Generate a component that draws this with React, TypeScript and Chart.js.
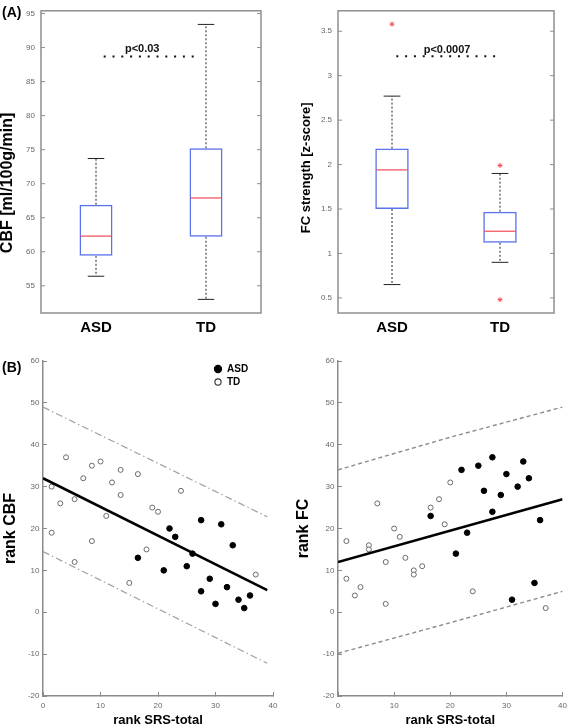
import React, { useEffect, useRef } from 'react';
import { Chart, registerables } from 'chart.js';

Chart.register(...registerables);

const FONT = "'Liberation Sans', Arial, sans-serif";

// ---------- Panel A: box plots ----------
const groups = ['ASD', 'TD'];

const cbfLow = [56.4, 53.0];
const cbfQ1 = [59.4, 62.2];
const cbfMedian = [62.3, 67.9];
const cbfQ3 = [66.9, 75.2];
const cbfHigh = [73.7, 93.4];
const cbfOutlierGroup: string[] = [];
const cbfOutlierValue: number[] = [];
const cbfTicks = [55, 60, 65, 70, 75, 80, 85, 90, 95];
const cbfSigLabel = 'p<0.03';
const cbfSigFrom = 0.07;
const cbfSigTo = 0.92;
const cbfSigY = 88.7;
const cbfSigLabelX = 0.42;
const cbfSigLabelY = 89.4;

const fcLow = [0.65, 0.9];
const fcQ1 = [1.5, 1.12];
const fcMedian = [1.94, 1.25];
const fcQ3 = [2.18, 1.47];
const fcHigh = [2.77, 1.9];
const fcOutlierGroup = ['ASD', 'TD', 'TD'];
const fcOutlierValue = [3.58, 1.99, 0.48];
const fcTicks = [0.5, 1, 1.5, 2, 2.5, 3, 3.5];
const fcSigLabel = 'p<0.0007';
const fcSigFrom = 0.04;
const fcSigTo = 0.96;
const fcSigY = 3.22;
const fcSigLabelX = 0.51;
const fcSigLabelY = 3.26;

// ---------- Panel B: rank scatter plots ----------
const asdSrsRank = [16.5, 21, 22, 23, 25, 26, 27.5, 27.5, 29, 30, 31, 32, 33, 34, 35, 36];
const tdSrsRank = [1.5, 1.5, 3, 4, 5.5, 5.5, 7, 8.5, 8.5, 10, 11, 12, 13.5, 13.5, 15, 16.5, 18, 19, 20, 24, 37];

const asdCbfRank = [13, 10, 20, 18, 11, 14, 22, 5, 8, 2, 21, 6, 16, 3, 1, 4];
const tdCbfRank = [30, 19, 26, 37, 27, 12, 32, 35, 17, 36, 23, 31, 34, 28, 7, 33, 15, 25, 24, 29, 9];

const asdFcRank = [23, 14, 34, 19, 35, 29, 37, 24, 28, 33, 3, 30, 36, 32, 7, 22];
const tdFcRank = [17, 8, 4, 6, 16, 15, 26, 12, 2, 20, 18, 13, 10, 9, 11, 25, 27, 21, 31, 5, 1];

const cbfFitX = [0, 39];
const cbfFitY = [32, 5.3];
const cbfUpperY = [49, 22.8];
const cbfLowerY = [14.5, -12.2];

const fcFitX = [0, 40];
const fcFitY = [12, 27];
const fcBandX = [0, 20, 40];
const fcUpperY = [34, 41.8, 49];
const fcLowerY = [-9.8, -2.5, 5];

const rankXTicks = [0, 10, 20, 30, 40];
const rankYTicks = [-20, -10, 0, 10, 20, 30, 40, 50, 60];

type BoxSpec = {
  low: number[]; q1: number[]; med: number[]; q3: number[]; high: number[];
  outGroup: string[]; outVal: number[]; ticks: number[];
  min: number; max: number; title: string; titleSize: number; titleGap: number; titleShift: number;
  sigLabel: string; sigFrom: number; sigTo: number; sigY: number; sigLX: number; sigLY: number;
  padLeft: number; yWidth: number; padRight: number; barPct: number;
};

function makeBoxPlugin(s: BoxSpec) {
  return {
    id: 'boxExtras',
    afterDatasetsDraw(chart: any) {
      const { ctx, chartArea: a } = chart;
      const x = chart.scales.x;
      const y = chart.scales.y;
      const meta = chart.getDatasetMeta(0);
      ctx.save();
      meta.data.forEach((el: any, i: number) => {
        const cx = el.x;
        const w = el.width;
        // whiskers
        ctx.strokeStyle = '#222';
        ctx.lineWidth = 1;
        ctx.setLineDash([2, 2]);
        ctx.beginPath();
        ctx.moveTo(cx, y.getPixelForValue(s.q3[i]));
        ctx.lineTo(cx, y.getPixelForValue(s.high[i]));
        ctx.moveTo(cx, y.getPixelForValue(s.q1[i]));
        ctx.lineTo(cx, y.getPixelForValue(s.low[i]));
        ctx.stroke();
        ctx.setLineDash([]);
        ctx.beginPath();
        [s.high[i], s.low[i]].forEach((v) => {
          const py = y.getPixelForValue(v);
          ctx.moveTo(cx - w / 4, py);
          ctx.lineTo(cx + w / 4, py);
        });
        ctx.stroke();
        // median
        ctx.strokeStyle = '#ef4b57';
        ctx.lineWidth = 1.2;
        ctx.beginPath();
        const pm = y.getPixelForValue(s.med[i]);
        ctx.moveTo(cx - w / 2 + 1, pm);
        ctx.lineTo(cx + w / 2 - 1, pm);
        ctx.stroke();
      });
      // frame + inward ticks
      ctx.strokeStyle = '#8f8f8f';
      ctx.lineWidth = 1.5;
      ctx.strokeRect(a.left, a.top, a.right - a.left, a.bottom - a.top);
      ctx.lineWidth = 1;
      ctx.beginPath();
      y.ticks.forEach((t: any) => {
        const py = y.getPixelForValue(t.value);
        ctx.moveTo(a.left, py);
        ctx.lineTo(a.left + 4, py);
        ctx.moveTo(a.right - 4, py);
        ctx.lineTo(a.right, py);
      });
      ctx.stroke();
      // significance marker
      const sy = y.getPixelForValue(s.sigY);
      ctx.strokeStyle = '#111';
      ctx.lineWidth = 2;
      ctx.setLineDash([2, 6.8]);
      ctx.beginPath();
      ctx.moveTo(x.getPixelForValue(s.sigFrom), sy);
      ctx.lineTo(x.getPixelForValue(s.sigTo), sy);
      ctx.stroke();
      ctx.setLineDash([]);
      ctx.fillStyle = '#111';
      ctx.font = `bold 11px ${FONT}`;
      ctx.textAlign = 'center';
      ctx.textBaseline = 'alphabetic';
      ctx.fillText(s.sigLabel, x.getPixelForValue(s.sigLX), y.getPixelForValue(s.sigLY));
      // y-axis title
      ctx.save();
      ctx.translate(a.left - s.titleGap, (a.top + a.bottom) / 2 + s.titleShift);
      ctx.rotate(-Math.PI / 2);
      ctx.fillStyle = '#000';
      ctx.font = `bold ${s.titleSize}px ${FONT}`;
      ctx.textAlign = 'center';
      ctx.textBaseline = 'middle';
      ctx.fillText(s.title, 0, 0);
      ctx.restore();
      ctx.restore();
    },
  };
}

function BoxPanel({ spec, left }: { spec: BoxSpec; left: number }) {
  const ref = useRef<HTMLCanvasElement>(null);
  useEffect(() => {
    const s = spec;
    const chart = new Chart(ref.current as HTMLCanvasElement, {
      type: 'bar',
      data: {
        labels: groups,
        datasets: [
          {
            type: 'bar',
            data: groups.map((_, i) => [s.q1[i], s.q3[i]]) as any,
            backgroundColor: 'rgba(0,0,0,0)',
            borderColor: '#5b73ea',
            borderWidth: 1.5,
            borderSkipped: false,
            barPercentage: s.barPct,
            categoryPercentage: 1,
          } as any,
          {
            type: 'line',
            data: s.outGroup.map((g, i) => ({ x: g, y: s.outVal[i] })) as any,
            showLine: false,
            pointStyle: 'star',
            pointRadius: 2.4,
            pointBorderColor: '#f0505a',
            borderColor: '#f0505a',
            pointBorderWidth: 1,
          } as any,
        ],
      },
      options: {
        responsive: false,
        animation: false,
        events: [],
        layout: { padding: { left: s.padLeft, right: s.padRight, top: 2, bottom: 0 } },
        plugins: { legend: { display: false }, tooltip: { enabled: false } },
        scales: {
          x: {
            grid: { display: false, drawTicks: false },
            border: { display: false },
            ticks: { font: { family: FONT, size: 15, weight: 'bold' }, color: '#000', padding: 6, maxRotation: 0 },
            afterFit: (sc: any) => { sc.height = 27; },
          },
          y: {
            type: 'linear',
            min: s.min,
            max: s.max,
            grid: { display: false, drawTicks: false },
            border: { display: false },
            afterBuildTicks: (sc: any) => { sc.ticks = s.ticks.map((v) => ({ value: v })); },
            ticks: { font: { family: FONT, size: 8 }, color: '#686868', padding: 6, callback: (v: any) => String(v) },
            title: { display: false },
            afterFit: (sc: any) => { sc.width = s.yWidth; },
          },
        },
      } as any,
      plugins: [makeBoxPlugin(s)],
    });
    return () => chart.destroy();
  }, [spec]);
  return (
    <canvas ref={ref} width={288} height={340} style={{ position: 'absolute', left, top: 0, width: 288, height: 340 }} />
  );
}

type ScatterSpec = {
  asdY: number[]; tdY: number[];
  fitX: number[]; fitY: number[];
  bandX: number[]; upperY: number[]; lowerY: number[];
  bandDash: number[]; bandColor: string; bandWidth: number;
  title: string; padLeft: number; yWidth: number; padRight: number; legend: boolean;
};

const legendPlugin = {
  id: 'cornerLegend',
  afterDraw(chart: any) {
    const { ctx, chartArea: a } = chart;
    const items = chart.data.datasets.filter((d: any) => d.label === 'ASD' || d.label === 'TD');
    ctx.save();
    items.forEach((d: any, i: number) => {
      const mx = a.right - 55;
      const my = a.top + 8 + i * 13;
      ctx.beginPath();
      ctx.arc(mx, my, i === 0 ? 3.6 : 3.1, 0, Math.PI * 2);
      ctx.fillStyle = d.backgroundColor;
      ctx.fill();
      ctx.lineWidth = 1.1;
      ctx.strokeStyle = i === 0 ? '#000' : '#333';
      ctx.stroke();
      ctx.fillStyle = '#000';
      ctx.font = `bold 10px ${FONT}`;
      ctx.textAlign = 'left';
      ctx.textBaseline = 'middle';
      ctx.fillText(d.label, mx + 9, my + 0.5);
    });
    ctx.restore();
  },
};

function ScatterPanel({ spec, left }: { spec: ScatterSpec; left: number }) {
  const ref = useRef<HTMLCanvasElement>(null);
  useEffect(() => {
    const s = spec;
    const axisColor = '#8a8a8a';
    const chart = new Chart(ref.current as HTMLCanvasElement, {
      type: 'scatter',
      data: {
        datasets: [
          {
            type: 'line', label: 'upper',
            data: s.bandX.map((x, i) => ({ x, y: s.upperY[i] })),
            borderColor: s.bandColor, borderWidth: s.bandWidth, borderDash: s.bandDash,
            pointRadius: 0, showLine: true, fill: false,
          },
          {
            type: 'line', label: 'lower',
            data: s.bandX.map((x, i) => ({ x, y: s.lowerY[i] })),
            borderColor: s.bandColor, borderWidth: s.bandWidth, borderDash: s.bandDash,
            pointRadius: 0, showLine: true, fill: false,
          },
          {
            type: 'line', label: 'fit',
            data: s.fitX.map((x, i) => ({ x, y: s.fitY[i] })),
            borderColor: '#000', borderWidth: 2.6,
            pointRadius: 0, showLine: true, fill: false,
          },
          {
            label: 'ASD',
            data: asdSrsRank.map((x, i) => ({ x, y: s.asdY[i] })),
            pointRadius: 2.8, backgroundColor: '#000', borderColor: '#000', borderWidth: 1,
          },
          {
            label: 'TD',
            data: tdSrsRank.map((x, i) => ({ x, y: s.tdY[i] })),
            pointRadius: 2.5, backgroundColor: '#fff', borderColor: '#6a6a6a', borderWidth: 1,
          },
        ] as any,
      },
      options: {
        responsive: false,
        animation: false,
        events: [],
        layout: { padding: { left: s.padLeft, right: s.padRight, top: 21, bottom: 0 } },
        plugins: { legend: { display: false }, tooltip: { enabled: false } },
        scales: {
          x: {
            type: 'linear', min: 0, max: 40,
            afterBuildTicks: (sc: any) => { sc.ticks = rankXTicks.map((v) => ({ value: v })); },
            grid: { display: true, drawOnChartArea: false, drawTicks: true, tickLength: -4, color: axisColor, lineWidth: 1 },
            border: { display: true, color: axisColor, width: 1.5 },
            ticks: { font: { family: FONT, size: 8 }, color: '#686868', padding: 9, maxRotation: 0, callback: (v: any) => String(v) },
            title: { display: true, text: 'rank SRS-total', font: { family: FONT, size: 13, weight: 'bold' }, color: '#000', padding: 0 },
            afterFit: (sc: any) => { sc.height = 32; },
          },
          y: {
            type: 'linear', min: -20, max: 60,
            afterBuildTicks: (sc: any) => { sc.ticks = rankYTicks.map((v) => ({ value: v })); },
            grid: { display: true, drawOnChartArea: false, drawTicks: true, tickLength: -4, color: axisColor, lineWidth: 1 },
            border: { display: true, color: axisColor, width: 1.5 },
            ticks: { font: { family: FONT, size: 8 }, color: '#686868', padding: 7.5, callback: (v: any) => String(v) },
            title: { display: true, text: s.title, font: { family: FONT, size: 16, weight: 'bold' }, color: '#000', padding: 0 },
            afterFit: (sc: any) => { sc.width = s.yWidth; },
          },
        },
      } as any,
      plugins: s.legend ? [legendPlugin] : [],
    });
    return () => chart.destroy();
  }, [spec]);
  return (
    <canvas ref={ref} width={288} height={388} style={{ position: 'absolute', left, top: 340, width: 288, height: 388 }} />
  );
}

const cbfSpec: BoxSpec = {
  low: cbfLow, q1: cbfQ1, med: cbfMedian, q3: cbfQ3, high: cbfHigh,
  outGroup: cbfOutlierGroup, outVal: cbfOutlierValue, ticks: cbfTicks,
  min: 51, max: 95.4, title: 'CBF [ml/100g/min]', titleSize: 16, titleGap: 33, titleShift: 21,
  sigLabel: cbfSigLabel, sigFrom: cbfSigFrom, sigTo: cbfSigTo, sigY: cbfSigY, sigLX: cbfSigLabelX, sigLY: cbfSigLabelY,
  padLeft: 0, yWidth: 41, padRight: 27, barPct: 0.3,
};

const fcSpec: BoxSpec = {
  low: fcLow, q1: fcQ1, med: fcMedian, q3: fcQ3, high: fcHigh,
  outGroup: fcOutlierGroup, outVal: fcOutlierValue, ticks: fcTicks,
  min: 0.33, max: 3.73, title: 'FC strength [z-score]', titleSize: 13, titleGap: 31.5, titleShift: 6,
  sigLabel: fcSigLabel, sigFrom: fcSigFrom, sigTo: fcSigTo, sigY: fcSigY, sigLX: fcSigLabelX, sigLY: fcSigLabelY,
  padLeft: 0, yWidth: 50, padRight: 22, barPct: 0.31,
};

const cbfScatter: ScatterSpec = {
  asdY: asdCbfRank, tdY: tdCbfRank,
  fitX: cbfFitX, fitY: cbfFitY,
  bandX: cbfFitX, upperY: cbfUpperY, lowerY: cbfLowerY,
  bandDash: [7, 3, 1.5, 3], bandColor: '#a0a0a0', bandWidth: 1.2,
  title: 'rank CBF', padLeft: 1, yWidth: 42, padRight: 15, legend: true,
};

const fcScatter: ScatterSpec = {
  asdY: asdFcRank, tdY: tdFcRank,
  fitX: fcFitX, fitY: fcFitY,
  bandX: fcBandX, upperY: fcUpperY, lowerY: fcLowerY,
  bandDash: [4, 3], bandColor: '#8c8c8c', bandWidth: 1.4,
  title: 'rank FC', padLeft: 6, yWidth: 44, padRight: 7, legend: false,
};

const panelLabel: React.CSSProperties = {
  position: 'absolute', left: 2, font: `bold 14px ${FONT}`, lineHeight: '14px', color: '#000',
};

export default function App() {
  return (
    <div style={{ position: 'absolute', left: 0, top: 0, width: 576, height: 728, background: '#fff', overflow: 'hidden' }}>
      <BoxPanel spec={cbfSpec} left={0} />
      <BoxPanel spec={fcSpec} left={288} />
      <ScatterPanel spec={cbfScatter} left={0} />
      <ScatterPanel spec={fcScatter} left={288} />
      <div style={{ ...panelLabel, top: 5 }}>(A)</div>
      <div style={{ ...panelLabel, top: 360 }}>(B)</div>
    </div>
  );
}
